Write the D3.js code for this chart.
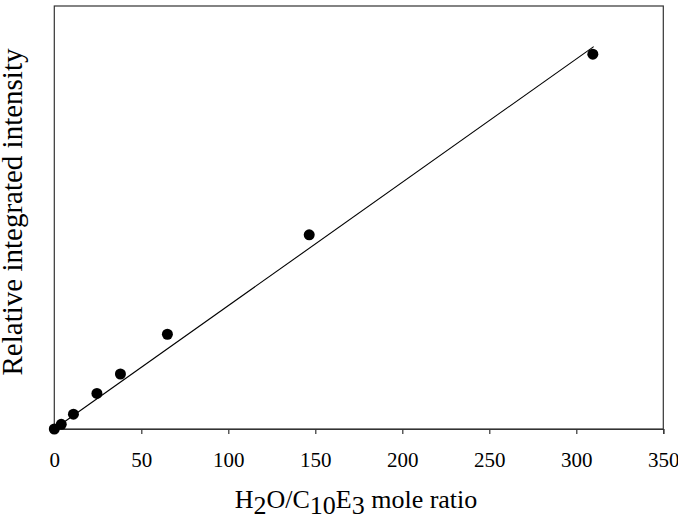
<!DOCTYPE html>
<html>
<head>
<meta charset="utf-8">
<script src="https://cdn.jsdelivr.net/npm/d3@7"></script>
<style>
  body { margin: 0; background: #fff; }
  text { font-family: "Liberation Serif", "Times New Roman", serif; fill: #000; }
</style>
</head>
<body>
<script>
// data (y is relative, no scale shown)
var ratio = [0, 4, 11, 24.5, 38, 65, 146.5, 309.5];
var intensity = [0, 0.011, 0.035, 0.084, 0.130, 0.224, 0.459, 0.886];
var fitX = [0, 310];
var fitY = [0, 0.904];
var xTicks = [0, 50, 100, 150, 200, 250, 300, 350];

var w = 678, h = 521;
var pLeft = 54.3, pRight = 663.3, pTop = 6, pBottom = 429;

var x = d3.scaleLinear().domain([0, 350]).range([pLeft, pRight]);
var y = d3.scaleLinear().domain([0, 1]).range([pBottom, pTop]);

const svg = d3.select("body").append("svg").attr("width", w).attr("height", h);

// frame
svg.append("rect").attr("x", pLeft).attr("y", pTop)
  .attr("width", pRight - pLeft).attr("height", pBottom - pTop)
  .attr("fill", "none").attr("stroke", "#333").attr("stroke-width", 1.2);

// x axis
var xAxis = d3.axisBottom(x).tickValues(xTicks).tickSize(5).tickPadding(18).tickFormat(d3.format("d"));
var gx = svg.append("g").attr("transform", "translate(0," + pBottom + ")").call(xAxis);
gx.select(".domain").attr("stroke", "#333").attr("stroke-width", 1.2);
gx.selectAll(".tick line").attr("stroke", "#333").attr("stroke-width", 1.2);
gx.selectAll(".tick text").attr("font-size", 21).attr("font-family", "Liberation Serif").attr("fill", "#000");

// fit line
var pts = fitX.map(function (d, i) { return [d, fitY[i]]; });
svg.append("path").datum(pts)
  .attr("d", d3.line().x(function (d) { return x(d[0]); }).y(function (d) { return y(d[1]); }))
  .attr("fill", "none").attr("stroke", "#000").attr("stroke-width", 1.1);

// points
svg.selectAll("circle.pt").data(ratio).enter().append("circle")
  .attr("class", "pt")
  .attr("cx", function (d) { return x(d); })
  .attr("cy", function (d, i) { return y(intensity[i]); })
  .attr("r", 5.5).attr("fill", "#000");

// x title with subscripts
var xt = svg.append("text").attr("x", 356).attr("y", 508)
  .attr("text-anchor", "middle").attr("font-size", 26);
xt.append("tspan").text("H");
xt.append("tspan").attr("dy", 6).text("2");
xt.append("tspan").attr("dy", -6).text("O/C");
xt.append("tspan").attr("dy", 6).text("10");
xt.append("tspan").attr("dy", -6).text("E");
xt.append("tspan").attr("dy", 6).text("3");
xt.append("tspan").attr("dy", -6).text(" mole ratio");

// y title
svg.append("text")
  .attr("transform", "translate(22," + 212 + ") rotate(-90)")
  .attr("text-anchor", "middle").attr("font-size", 29)
  .text("Relative integrated intensity");
</script>
</body>
</html>
